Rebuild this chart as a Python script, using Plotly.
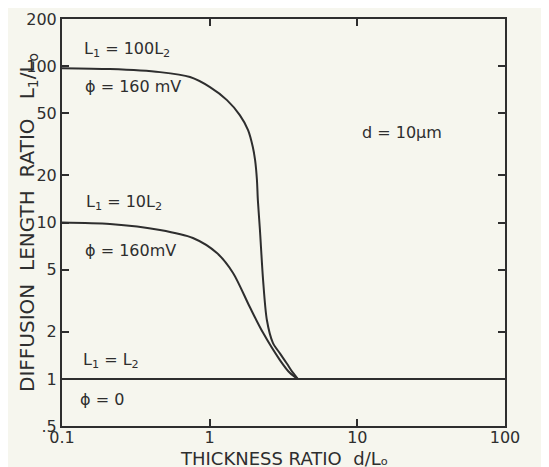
import plotly.graph_objects as go

# Curve L1 = 100 L2, phi = 160 mV
x_100 = [0.1, 0.211, 0.461, 0.736, 1.005, 1.31, 1.60, 1.82, 1.96, 2.03, 2.09, 2.12,
         2.19, 2.30, 2.44, 2.68, 3.0, 3.34, 3.65, 3.95]
y_100 = [97, 95.7, 91.5, 85.1, 73.4, 60.6, 48.6, 39.0, 30.4, 25.1, 18.7, 13.9,
         8.96, 4.29, 2.38, 1.70, 1.45, 1.25, 1.1, 1.0]

# Curve L1 = 10 L2, phi = 160 mV
x_10 = [0.1, 0.211, 0.461, 0.77, 1.12, 1.44, 1.87, 2.30, 2.99, 3.5, 3.95]
y_10 = [10.0, 9.78, 8.96, 7.96, 6.38, 4.76, 2.88, 1.97, 1.32, 1.09, 1.0]

# Curve L1 = L2, phi = 0
x_1 = [0.1, 100]
y_1 = [1, 1]

x_ticks = [0.1, 1, 10, 100]
x_ticklabels = ["0.1", "1", "10", "100"]
y_ticks = [0.5, 1, 2, 5, 10, 20, 50, 100, 200]
y_ticklabels = [".5", "1", "2", "5", "10", "20", "50", "100", "200"]

INK = "#2e2e2e"
BG = "#f6f6ee"
FONT = "DejaVu Sans"

fig = go.Figure()
for xs, ys in [(x_100, y_100), (x_10, y_10), (x_1, y_1)]:
    fig.add_trace(go.Scatter(x=xs, y=ys, mode="lines",
                             line=dict(color=INK, width=2, shape="spline", smoothing=0.8),
                             showlegend=False, hoverinfo="skip"))

axis_common = dict(type="log", showgrid=False, zeroline=False, showline=True,
                   linecolor=INK, linewidth=2, ticks="inside", ticklen=7,
                   tickwidth=1.5, tickcolor=INK, mirror="ticks", automargin=False,
                   tickfont=dict(family=FONT, size=16, color=INK))

fig.update_xaxes(**axis_common, range=[-1, 2], tickvals=x_ticks, ticktext=x_ticklabels,
                 ticklabelstandoff=-4)
fig.update_yaxes(**axis_common, range=[-0.30103, 2.30103], tickvals=y_ticks, ticktext=y_ticklabels)

ann_font = dict(family=FONT, size=16, color=INK)
labels = [
    (0.045, 0.924, "L<sub>1</sub> = 100L<sub>2</sub>"),
    (0.047, 0.835, "ϕ = 160 mV"),
    (0.050, 0.548, "L<sub>1</sub> = 10L<sub>2</sub>"),
    (0.047, 0.432, "ϕ = 160mV"),
    (0.043, 0.160, "L<sub>1</sub> = L<sub>2</sub>"),
    (0.036, 0.064, "ϕ = 0"),
    (0.673, 0.720, "d = 10μm"),
]
for x, y, t in labels:
    fig.add_annotation(x=x, y=y, xref="paper", yref="paper", text=t, showarrow=False,
                       xanchor="left", yanchor="middle", font=ann_font)

fig.add_annotation(x=0.5, y=-0.048, xref="paper", yref="paper",
                   text="THICKNESS RATIO  d/Lₒ", showarrow=False,
                   xanchor="center", yanchor="top",
                   font=dict(family=FONT, size=18, color=INK))
fig.add_annotation(x=-0.078, y=0.5, xref="paper", yref="paper",
                   text="DIFFUSION  LENGTH  RATIO   L<sub>1</sub>/L<sub>o</sub>", showarrow=False,
                   textangle=-90, xanchor="center", yanchor="middle",
                   font=dict(family=FONT, size=20, color=INK))

# page body has an 8px margin; figure sized so the plot area lands where the reference has it
fig.update_layout(width=541, height=459, paper_bgcolor=BG, plot_bgcolor=BG,
                  margin=dict(l=54, r=44, t=11, b=41, autoexpand=False))

fig.write_html("out.html")
